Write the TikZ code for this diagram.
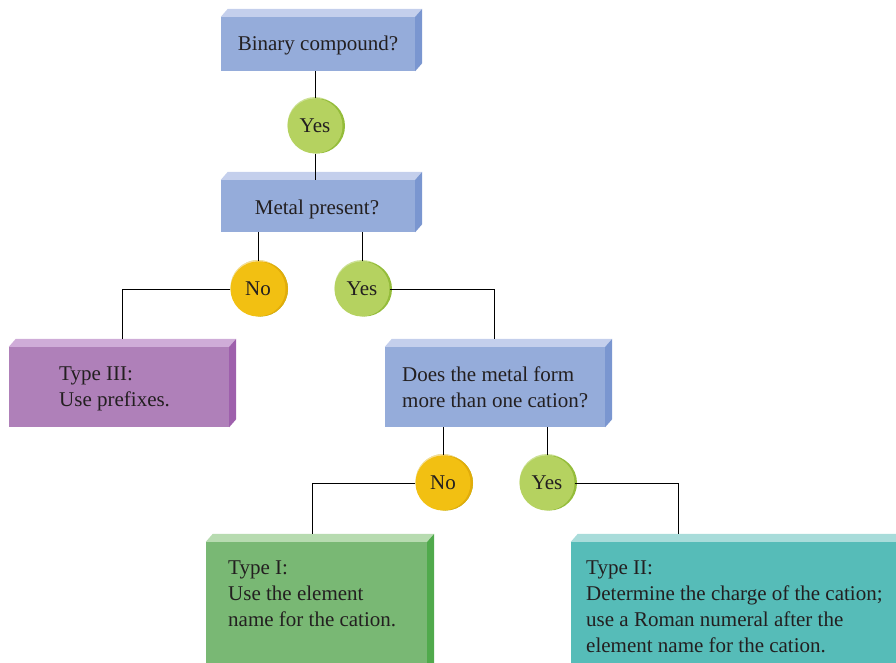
\documentclass[tikz,border=0pt]{standalone}
\usepackage{fontspec}
\setmainfont{Liberation Serif}
\usetikzlibrary{calc}
\definecolor{txt}{RGB}{35,31,32}
\definecolor{bluef}{RGB}{149,172,218}
\definecolor{bluet}{RGB}{196,207,236}
\definecolor{blues}{RGB}{122,150,208}
\definecolor{purf}{RGB}{175,128,185}
\definecolor{purt}{RGB}{207,172,216}
\definecolor{purs}{RGB}{158,96,172}
\definecolor{grnf}{RGB}{121,184,116}
\definecolor{grnt}{RGB}{183,219,176}
\definecolor{grns}{RGB}{80,170,76}
\definecolor{teaf}{RGB}{86,188,184}
\definecolor{teat}{RGB}{168,220,218}
\definecolor{teas}{RGB}{60,170,166}
\definecolor{yesf}{RGB}{181,210,96}
\definecolor{yesd}{RGB}{148,188,58}
\definecolor{yesl}{RGB}{205,225,150}
\definecolor{nof}{RGB}{242,192,18}
\definecolor{nod}{RGB}{226,172,10}
\definecolor{nol}{RGB}{248,222,150}
\tikzset{
  box/.style={draw=none, inner sep=0pt},
  lbl/.style={text=txt, inner sep=0pt, font=\fontsize{21}{26}\selectfont},
  blk/.style={lbl, align=left, anchor=base west},
  yesc/.style={circle, minimum size=55pt, inner sep=0pt, fill=yesf, text=txt,
    font=\fontsize{21}{26}\selectfont,
    preaction={fill=yesl, transform canvas={yshift=1.5pt}},
    preaction={fill=yesd, transform canvas={xshift=2.5pt}}},
  noc/.style={yesc, fill=nof,
    preaction={fill=nol, transform canvas={yshift=1.5pt}},
    preaction={fill=nod, transform canvas={xshift=2.5pt}}},
  conn/.style={draw=black, line width=1pt}
}
% 3D box: name, center x, center y, width, height, front, top, side
\newcommand\cubebox[8]{%
  \node[box, fill=#6, minimum width=#4pt, minimum height=#5pt] (#1) at (#2,#3) {};
  \fill[#7] (#1.north west) -- ++(7,-8) -- ($(#1.north east)+(7pt,8pt)$) -- (#1.north east) -- cycle;
  \fill[#8] (#1.north east) -- ++(7,-8) -- ($(#1.south east)+(7pt,8pt)$) -- (#1.south east) -- cycle;
}
\begin{document}
\begin{tikzpicture}[x=1pt,y=-1pt]
\useasboundingbox (0,0) rectangle (896,663);
\clip (0,0) rectangle (896,663);
% circles
\node[yesc] (y1) at (315,126) {Yes};
\node[noc]  (n1) at (258,289) {No};
\node[yesc] (y2) at (362,289) {Yes};
\node[noc]  (n2) at (443,483) {No};
\node[yesc] (y3) at (547,483) {Yes};
% boxes
\cubebox{b1}{318}{44}{194}{54}{bluef}{bluet}{blues}
\cubebox{b2}{318}{206}{194}{52}{bluef}{bluet}{blues}
\cubebox{b3}{119}{387}{220}{80}{purf}{purt}{purs}
\cubebox{b4}{495}{387}{220}{80}{bluef}{bluet}{blues}
\cubebox{b5}{316.5}{621}{221}{158}{grnf}{grnt}{grns}
\cubebox{b6}{746}{621}{350}{158}{teaf}{teat}{teas}
% connectors
\draw[conn] (y1.north) -- (y1.north |- b1.south);
\draw[conn] (y1.south) -- (y1.south |- b2.north);
\draw[conn] (n1.north) -- (n1.north |- b2.south);
\draw[conn] (y2.north) -- (y2.north |- b2.south);
\draw[conn] (n1.west) -| ($(b3.north)+(3pt,8pt)$);
\draw[conn] (y2.east) -| ($(b4.north)+(-1pt,8pt)$);
\draw[conn] (n2.north) -- (n2.north |- b4.south);
\draw[conn] (y3.north) -- (y3.north |- b4.south);
\draw[conn] (n2.west) -| ($(b5.north)+(-4.5pt,8pt)$);
\draw[conn] (y3.east) -| ($(b6.north west)+(108pt,8pt)$);
% texts (multi-line: base = last line's baseline)
\node[lbl, anchor=base] (t1) at (318,51) {Binary compound?};
\node[lbl, anchor=base] (t2) at (317,214) {Metal present?};
\node[blk] (t3) at (59,406) {Type III:\\Use prefixes.};
\node[blk] (t4) at (402,407) {Does the metal form\\more than one cation?};
\node[blk] (t5) at (228,626) {Type I:\\Use the element\\name for the cation.};
\node[blk] (t6) at (586,652) {Type II:\\Determine the charge of the cation;\\use a Roman numeral after the\\element name for the cation.};
\end{tikzpicture}
\end{document}
